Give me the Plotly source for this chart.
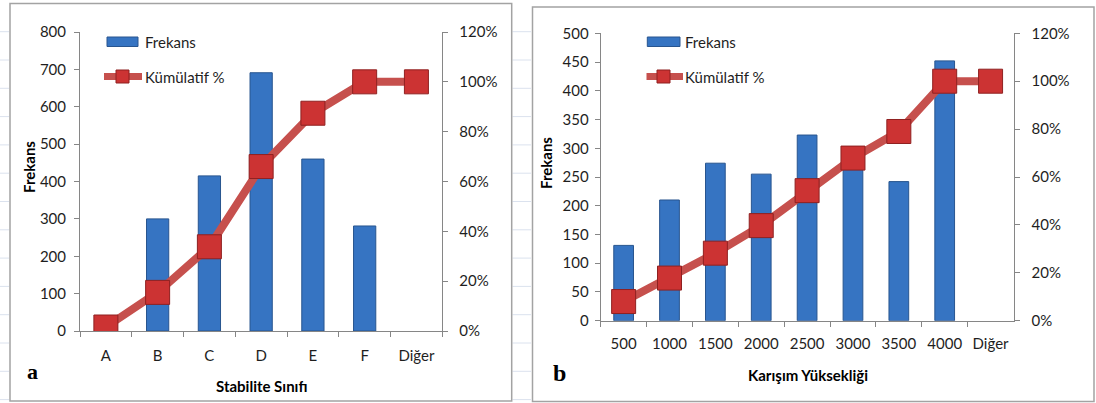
import plotly.graph_objects as go

W, H = 1096, 403

# ---- data panel a ----
cats_a = ["A", "B", "C", "D", "E", "F", "Diğer"]
freq_a = [35, 300, 415, 691, 460, 281, 0]
cum_a = [0.016, 0.155, 0.338, 0.66, 0.874, 1.0, 1.0]

# ---- data panel b ----
cats_b = ["500", "1000", "1500", "2000", "2500", "3000", "3500", "4000", "Diğer"]
freq_b = [131, 210, 274, 255, 323, 290, 242, 452, 0]
cum_b = [0.08, 0.178, 0.282, 0.397, 0.543, 0.679, 0.79, 1.0, 1.0]

BAR = "#3674c2"
BAR_EDGE = "#28558f"
LINE = "#c6504d"
MARK = "#cc3333"
MARK_EDGE = "#8f2020"
AX = "#868686"
TXT = "#1e1e1e"
FONT = "Lato"


def px(x):
    return x / W


def py(y):
    return 1 - y / H


def edge_widths(vals):
    return [0 if v == 0 else 1 for v in vals]


fig = go.Figure()

fig.add_trace(go.Bar(x=cats_a, y=freq_a, name="Frekans", xaxis="x", yaxis="y",
                     marker=dict(color=BAR, line=dict(color=BAR_EDGE, width=edge_widths(freq_a))),
                     showlegend=False))
fig.add_trace(go.Scatter(x=cats_a, y=cum_a, name="Kümülatif %", xaxis="x", yaxis="y2",
                         mode="lines+markers",
                         line=dict(color=LINE, width=8),
                         marker=dict(symbol="square", size=24, color=MARK,
                                     line=dict(color=MARK_EDGE, width=1)),
                         showlegend=False))
fig.add_trace(go.Bar(x=cats_b, y=freq_b, name="Frekans", xaxis="x2", yaxis="y3",
                     marker=dict(color=BAR, line=dict(color=BAR_EDGE, width=edge_widths(freq_b))),
                     showlegend=False))
fig.add_trace(go.Scatter(x=cats_b, y=cum_b, name="Kümülatif %", xaxis="x2", yaxis="y4",
                         mode="lines+markers",
                         line=dict(color=LINE, width=8),
                         marker=dict(symbol="square", size=24, color=MARK,
                                     line=dict(color=MARK_EDGE, width=1)),
                         showlegend=False))

tickfont = dict(family=FONT, size=15, color=TXT)
common_y = dict(showgrid=False, zeroline=False, showline=True, linecolor=AX, linewidth=1,
                ticks="outside", ticklen=5, tickcolor=AX, tickfont=tickfont, fixedrange=True,
                automargin=False)
common_x = dict(showgrid=False, zeroline=False, showline=True, linecolor=AX, linewidth=1,
                ticks="outside", ticklen=5, tickcolor=AX, tickfont=tickfont,
                tickson="boundaries", type="category", fixedrange=True, automargin=False)

fig.update_layout(
    width=W, height=H, margin=dict(l=0, r=0, t=0, b=0, pad=0, autoexpand=False),
    paper_bgcolor="white", plot_bgcolor="rgba(0,0,0,0)",
    bargap=0.57, showlegend=False,
    font=dict(family=FONT, color=TXT),
    xaxis=dict(domain=[px(80), px(442.3)], anchor="y", range=[-0.5, 6.5],
               ticklabelstandoff=11, **common_x),
    yaxis=dict(domain=[py(331), py(32)], anchor="x", range=[0, 800], dtick=100,
               ticklabelstandoff=5, **common_y),
    yaxis2=dict(overlaying="y", side="right", anchor="x", range=[0, 1.2], dtick=0.2,
                tickformat=".0%", ticklabelstandoff=8, **common_y),
    xaxis2=dict(domain=[px(600.7), px(1013.5)], anchor="y3", range=[-0.5, 8.5],
                ticklabelstandoff=9, **common_x),
    yaxis3=dict(domain=[py(320.7), py(33.3)], anchor="x2", range=[0, 500], dtick=50,
                ticklabelstandoff=3, **common_y),
    yaxis4=dict(overlaying="y3", side="right", anchor="x2", range=[0, 1.2], dtick=0.2,
                tickformat=".0%", ticklabelstandoff=9, **common_y),
)

shapes = []
# faint spreadsheet gridlines in the gap / margins
GRID = "#dbe2ee"
for k in range(14):
    yy = 31.7 + 28.3 * k
    shapes.append(dict(type="line", xref="paper", yref="paper", x0=px(512.5), x1=px(531),
                       y0=py(yy), y1=py(yy), line=dict(color=GRID, width=1)))
    shapes.append(dict(type="line", xref="paper", yref="paper", x0=px(0), x1=px(9),
                       y0=py(yy), y1=py(yy), line=dict(color=GRID, width=1)))
# panel frames
shapes.append(dict(type="rect", xref="paper", yref="paper", x0=px(10), x1=px(511.7),
                   y0=py(401), y1=py(3.5), line=dict(color="#a3a3a3", width=1.5)))
shapes.append(dict(type="rect", xref="paper", yref="paper", x0=px(532.5), x1=px(1094),
                   y0=py(401.5), y1=py(7), line=dict(color="#a3a3a3", width=1.5)))

# manual legends
annotations = []
for (sx0, sx1, lx0, lx1, mx, tx) in [(107, 138, 104, 142, 122.5, 142.5),
                                      (647.3, 680, 646.5, 683, 663.5, 683)]:
    shapes.append(dict(type="rect", xref="paper", yref="paper", x0=px(sx0), x1=px(sx1),
                       y0=py(46.5), y1=py(37), fillcolor=BAR,
                       line=dict(color=BAR_EDGE, width=1)))
    shapes.append(dict(type="line", xref="paper", yref="paper", x0=px(lx0), x1=px(lx1),
                       y0=py(76.5), y1=py(76.5), line=dict(color=LINE, width=7)))
    shapes.append(dict(type="rect", xref="paper", yref="paper", x0=px(mx - 6.5), x1=px(mx + 6.5),
                       y0=py(83), y1=py(70), fillcolor=MARK,
                       line=dict(color=MARK_EDGE, width=1)))
    annotations.append(dict(text="Frekans", xref="paper", yref="paper", x=px(tx), y=py(42.5),
                            xanchor="left", yanchor="middle", showarrow=False,
                            font=dict(family=FONT, size=15, color=TXT)))
    annotations.append(dict(text="Kümülatif %", xref="paper", yref="paper", x=px(tx), y=py(77),
                            xanchor="left", yanchor="middle", showarrow=False,
                            font=dict(family=FONT, size=15, color=TXT)))

# axis titles
annotations += [
    dict(text="<b>Frekans</b>", xref="paper", yref="paper", x=px(29), y=py(167), textangle=-90,
         showarrow=False, xanchor="center", yanchor="middle",
         font=dict(family=FONT, size=15, color="#000")),
    dict(text="<b>Stabilite Sınıfı</b>", xref="paper", yref="paper", x=px(261), y=py(386),
         showarrow=False, xanchor="center", yanchor="middle",
         font=dict(family=FONT, size=15, color="#000")),
    dict(text="<b>Frekans</b>", xref="paper", yref="paper", x=px(546), y=py(163), textangle=-90,
         showarrow=False, xanchor="center", yanchor="middle",
         font=dict(family=FONT, size=15, color="#000")),
    dict(text="<b>Karışım Yüksekliği</b>", xref="paper", yref="paper", x=px(808), y=py(375),
         showarrow=False, xanchor="center", yanchor="middle",
         font=dict(family=FONT, size=15, color="#000")),
    dict(text="<b>a</b>", xref="paper", yref="paper", x=px(32), y=py(371),
         showarrow=False, xanchor="center", yanchor="middle",
         font=dict(family="Liberation Serif", size=22, color="#000")),
    dict(text="<b>b</b>", xref="paper", yref="paper", x=px(559), y=py(373),
         showarrow=False, xanchor="center", yanchor="middle",
         font=dict(family="Liberation Serif", size=24, color="#000")),
]

fig.update_layout(shapes=shapes, annotations=annotations)
fig.write_html("out.html")
